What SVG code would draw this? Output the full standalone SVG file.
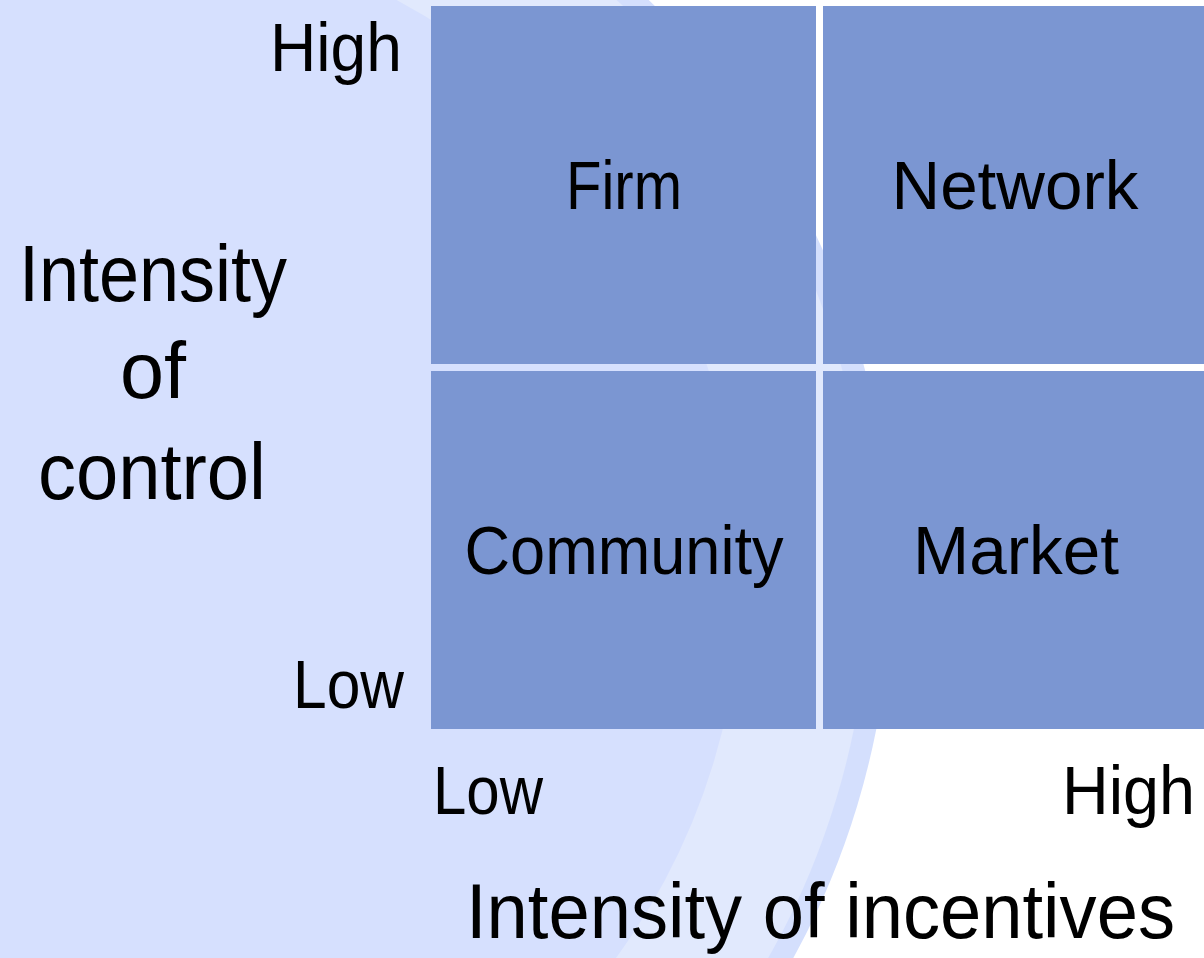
<svg xmlns="http://www.w3.org/2000/svg" width="1204" height="958" viewBox="0 0 1204 958">
<style>
.bg-outer{fill:#d4dffd}
.bg-band{fill:#e1e9fd}
.bg-inner{fill:#d6e0fe}
.cell{fill:#7b96d2}
text{font-family:"Liberation Sans",Arial,sans-serif;fill:#000}
.lbl{font-size:68px}
.axis{font-size:79px}
.axis2{font-size:77px}
.m{text-anchor:middle}
.e{text-anchor:end}
</style>
<g id="background">
<rect x="0" y="0" width="1204" height="958" fill="#ffffff"/>
<circle class="bg-outer" cx="91.5" cy="574" r="800"/>
<circle class="bg-band" cx="91.5" cy="574" r="778"/>
<circle class="bg-inner" cx="91.5" cy="574" r="650"/>
</g>
<g id="connectors"/>
<g id="node-firm">
<rect class="cell" x="431" y="6" width="385" height="358"/>
<text class="lbl m" x="624" y="209" textLength="116" lengthAdjust="spacingAndGlyphs">Firm</text>
</g>
<g id="node-network">
<rect class="cell" x="823" y="6" width="381" height="358"/>
<text class="lbl m" x="1015" y="209" textLength="247" lengthAdjust="spacingAndGlyphs">Network</text>
</g>
<g id="node-community">
<rect class="cell" x="431" y="371" width="385" height="358"/>
<text class="lbl m" x="624" y="574" textLength="319" lengthAdjust="spacingAndGlyphs">Community</text>
</g>
<g id="node-market">
<rect class="cell" x="823" y="371" width="381" height="358"/>
<text class="lbl m" x="1016" y="574" textLength="206" lengthAdjust="spacingAndGlyphs">Market</text>
</g>
<g id="axis-control">
<text class="lbl e" x="402" y="71" textLength="132" lengthAdjust="spacingAndGlyphs">High</text>
<text class="lbl e" x="404" y="708" textLength="111" lengthAdjust="spacingAndGlyphs">Low</text>
<text class="axis m" x="153" y="301" textLength="268" lengthAdjust="spacingAndGlyphs">Intensity</text>
<text class="axis m" x="153" y="398" textLength="66" lengthAdjust="spacingAndGlyphs">of</text>
<text class="axis m" x="152" y="499" textLength="228" lengthAdjust="spacingAndGlyphs">control</text>
</g>
<g id="axis-incentives">
<text class="lbl" x="433" y="814" textLength="110" lengthAdjust="spacingAndGlyphs">Low</text>
<text class="lbl e" x="1195" y="814" textLength="133" lengthAdjust="spacingAndGlyphs">High</text>
<text class="axis2" x="466" y="938" textLength="709" lengthAdjust="spacingAndGlyphs">Intensity of incentives</text>
</g>
</svg>
